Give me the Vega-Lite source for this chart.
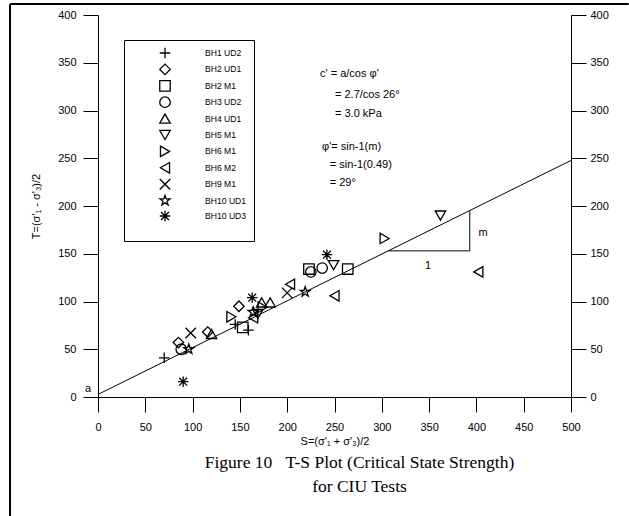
{
  "$schema": "https://vega.github.io/schema/vega-lite/v6.json",
  "width": 473,
  "height": 382,
  "autosize": "none",
  "padding": {"left": 98, "top": 15, "right": 58, "bottom": 119},
  "background": "white",
  "title": {
    "text": ["Figure 10\u00a0\u00a0\u00a0T-S Plot (Critical State Strength)", "for CIU Tests"],
    "orient": "bottom",
    "anchor": "middle",
    "font": "Liberation Serif",
    "fontSize": 17.5,
    "fontWeight": "normal",
    "color": "black",
    "lineHeight": 24,
    "offset": -63,
    "dx": 25
  },
  "config": {
    "view": {"stroke": null},
    "axis": {
      "domainColor": "black",
      "tickColor": "black",
      "tickSize": 15,
      "grid": false,
      "labelFont": "Liberation Sans",
      "labelFontSize": 11,
      "labelColor": "black",
      "titleFont": "Liberation Sans",
      "titleFontSize": 11,
      "titleFontWeight": "normal",
      "titleColor": "black"
    }
  },
  "encoding": {
    "x": {
      "field": "S",
      "type": "quantitative",
      "scale": {"domain": [0, 500], "nice": false, "zero": false},
      "axis": {"title": "S=(σ'₁ + σ'₃)/2", "values": [0, 50, 100, 150, 200, 250, 300, 350, 400, 450, 500], "labelPadding": 9, "titlePadding": 3, "labelFlush": false}
    }
  },
  "layer": [
    {
      "data": {"values": [
        {"S": -93, "T": 411.5, "S2": 561, "T2": 411.5},
        {"S": -93, "T": 411.5, "S2": -93, "T2": -125}
      ]},
      "mark": {"type": "rule", "color": "black", "strokeWidth": 2, "clip": false},
      "encoding": {
        "y": {"field": "T", "type": "quantitative", "scale": {"domain": [0, 400], "nice": false}, "axis": null},
        "x2": {"field": "S2"},
        "y2": {"field": "T2"}
      }
    },
    {
      "data": {"values": [{"S": 0, "T": 2.7}, {"S": 500, "T": 247.7}]},
      "mark": {"type": "line", "color": "black", "strokeWidth": 1},
      "encoding": {
        "y": {"field": "T", "type": "quantitative", "scale": {"domain": [0, 400], "nice": false},
          "axis": {"orient": "right", "title": null, "values": [0, 50, 100, 150, 200, 250, 300, 350, 400], "labelPadding": 4, "labelFlush": false}}
      }
    },
    {
      "data": {"values": [
        {"S": 306.7, "T": 153, "S2": 393, "T2": 153},
        {"S": 393, "T": 153, "S2": 393, "T2": 195.3}
      ]},
      "mark": {"type": "rule", "color": "black", "strokeWidth": 1},
      "encoding": {
        "y": {"field": "T", "type": "quantitative", "scale": {"domain": [0, 400], "nice": false}, "axis": null},
        "x2": {"field": "S2"},
        "y2": {"field": "T2"}
      }
    },
    {
      "data": {"values": [
        {"sample": "BH1 UD2", "S": 70, "T": 41},
        {"sample": "BH1 UD2", "S": 145, "T": 76},
        {"sample": "BH1 UD2", "S": 159, "T": 70},
        {"sample": "BH2 UD1", "S": 85, "T": 57},
        {"sample": "BH2 UD1", "S": 116, "T": 68},
        {"sample": "BH2 UD1", "S": 149, "T": 95},
        {"sample": "BH2 M1", "S": 153, "T": 73},
        {"sample": "BH2 M1", "S": 223, "T": 134},
        {"sample": "BH2 M1", "S": 264, "T": 134},
        {"sample": "BH3 UD2", "S": 88, "T": 50},
        {"sample": "BH3 UD2", "S": 225, "T": 131},
        {"sample": "BH3 UD2", "S": 237, "T": 135},
        {"sample": "BH4 UD1", "S": 120, "T": 66},
        {"sample": "BH4 UD1", "S": 173, "T": 99},
        {"sample": "BH4 UD1", "S": 182, "T": 99},
        {"sample": "BH5 M1", "S": 169, "T": 87},
        {"sample": "BH5 M1", "S": 249, "T": 138},
        {"sample": "BH5 M1", "S": 362, "T": 190},
        {"sample": "BH6 M1", "S": 141, "T": 84},
        {"sample": "BH6 M1", "S": 174, "T": 94},
        {"sample": "BH6 M1", "S": 303, "T": 166},
        {"sample": "BH6 M2", "S": 164, "T": 83},
        {"sample": "BH6 M2", "S": 203, "T": 118},
        {"sample": "BH6 M2", "S": 250, "T": 106},
        {"sample": "BH6 M2", "S": 402, "T": 131},
        {"sample": "BH9 M1", "S": 98, "T": 67},
        {"sample": "BH9 M1", "S": 200, "T": 109},
        {"sample": "BH10 UD1", "S": 96, "T": 50},
        {"sample": "BH10 UD1", "S": 164, "T": 89},
        {"sample": "BH10 UD1", "S": 219, "T": 110},
        {"sample": "BH10 UD3", "S": 90, "T": 16},
        {"sample": "BH10 UD3", "S": 163, "T": 104},
        {"sample": "BH10 UD3", "S": 242, "T": 149}
      ]},
      "mark": {"type": "point", "filled": false, "color": "black", "strokeWidth": 1.3, "size": 110, "opacity": 1},
      "encoding": {
        "y": {"field": "T", "type": "quantitative", "scale": {"domain": [0, 400], "nice": false},
          "axis": {"orient": "left", "title": "T=(σ'₁ - σ'₃)/2", "values": [0, 50, 100, 150, 200, 250, 300, 350, 400], "labelPadding": 7, "titlePadding": 16, "labelFlush": false}},
        "shape": {
          "field": "sample",
          "type": "nominal",
          "scale": {
            "domain": ["BH1 UD2", "BH2 UD1", "BH2 M1", "BH3 UD2", "BH4 UD1", "BH5 M1", "BH6 M1", "BH6 M2", "BH9 M1", "BH10 UD1", "BH10 UD3"],
            "range": [
              "M-1,0L1,0M0,-1L0,1",
              "diamond",
              "square",
              "circle",
              "triangle-up",
              "triangle-down",
              "triangle-right",
              "triangle-left",
              "M-1,-1L1,1M-1,1L1,-1",
              "M0,-1L0.235,-0.324L0.951,-0.309L0.38,0.124L0.588,0.809L0,0.4L-0.588,0.809L-0.38,0.124L-0.951,-0.309L-0.235,-0.324Z",
              "M-1,0L1,0M0,-1L0,1M-0.75,-0.75L0.75,0.75M-0.75,0.75L0.75,-0.75"
            ]
          },
          "legend": {
            "orient": "none",
            "legendX": 26,
            "legendY": 25,
            "title": " ",
            "titleOrient": "bottom",
            "titleFontSize": 4,
            "titlePadding": 6,
            "strokeColor": "black",
            "padding": 7,
            "symbolOffset": 28,
            "labelOffset": 34,
            "rowPadding": 0.4,
            "symbolSize": 110,
            "symbolType": "circle",
            "symbolStrokeWidth": 1.3,
            "symbolStrokeColor": "black",
            "symbolFillColor": "transparent",
            "labelFont": "Liberation Sans",
            "labelFontSize": 8.6,
            "labelColor": "black"
          }
        }
      }
    },
    {
      "data": {"values": [
        {"S": 234.7, "T": 338, "txt": "c' = a/cos φ'"},
        {"S": 250.5, "T": 316, "txt": "= 2.7/cos 26°"},
        {"S": 250.5, "T": 296, "txt": "= 3.0 kPa"},
        {"S": 236.8, "T": 262, "txt": "φ'= sin-1(m)"},
        {"S": 245, "T": 243, "txt": "= sin-1(0.49)"},
        {"S": 245, "T": 224, "txt": "= 29°"}
      ]},
      "mark": {"type": "text", "align": "left", "baseline": "middle", "font": "Liberation Sans", "fontSize": 11, "color": "black"},
      "encoding": {
        "y": {"field": "T", "type": "quantitative", "scale": {"domain": [0, 400], "nice": false}, "axis": null},
        "text": {"field": "txt"}
      }
    },
    {
      "data": {"values": [
        {"S": 407, "T": 172, "txt": "m"},
        {"S": 349, "T": 137, "txt": "1"},
        {"S": -10.5, "T": 8.4, "txt": "a"}
      ]},
      "mark": {"type": "text", "align": "center", "baseline": "middle", "font": "Liberation Sans", "fontSize": 11, "color": "black", "clip": false},
      "encoding": {
        "y": {"field": "T", "type": "quantitative", "scale": {"domain": [0, 400], "nice": false}, "axis": null},
        "text": {"field": "txt"}
      }
    }
  ],
  "resolve": {"axis": {"y": "independent"}}
}
